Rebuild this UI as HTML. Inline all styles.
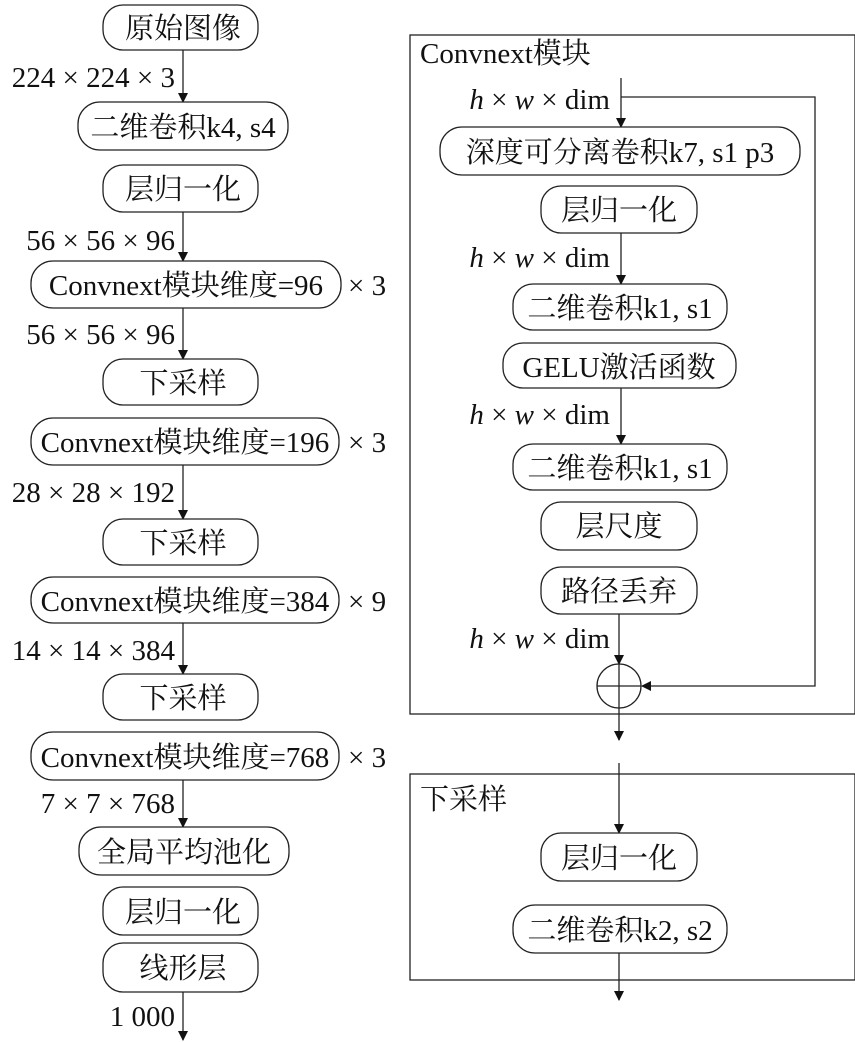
<!DOCTYPE html>
<html><head><meta charset="utf-8"><style>
html,body{margin:0;padding:0;background:#fff;}
svg{display:block;}
text{font-family:"Liberation Serif","Noto Serif CJK SC","DejaVu Serif",serif;font-size:29px;fill:#111;}
.l{text-anchor:end;}
.m{text-anchor:middle;}
rect,circle{fill:#fff;stroke:#222;stroke-width:1.3;}
line,polyline{stroke:#222;stroke-width:1.3;fill:none;}
</style></head><body>
<svg width="855" height="1042" viewBox="0 0 855 1042" xmlns="http://www.w3.org/2000/svg" font-family="Liberation Serif, Noto Serif CJK SC, serif">
<defs><marker id="a" markerWidth="10" markerHeight="10" refX="9" refY="5" orient="auto" markerUnits="userSpaceOnUse"><path d="M0,0 L10,5 L0,10 z" fill="#111"/></marker></defs>

<line x1="183" y1="50" x2="183" y2="102" marker-end="url(#a)"/>
<line x1="183" y1="212" x2="183" y2="261" marker-end="url(#a)"/>
<line x1="183" y1="308" x2="183" y2="359" marker-end="url(#a)"/>
<line x1="183" y1="465" x2="183" y2="519" marker-end="url(#a)"/>
<line x1="183" y1="623" x2="183" y2="674" marker-end="url(#a)"/>
<line x1="183" y1="780" x2="183" y2="827" marker-end="url(#a)"/>
<line x1="183" y1="992" x2="183" y2="1040" marker-end="url(#a)"/>

<rect x="103" y="5" width="155" height="45" rx="20"/><text class="m" x="183" y="38">原始图像</text>
<text class="l" x="175" y="87">224 × 224 × 3</text>
<rect x="78" y="102" width="210" height="48" rx="22"/><text class="m" x="183" y="137">二维卷积k4, s4</text>
<rect x="103" y="165" width="155" height="47" rx="20"/><text class="m" x="183" y="199">层归一化</text>
<text class="l" x="175" y="250">56 × 56 × 96</text>
<rect x="31" y="261" width="310" height="47" rx="22"/><text class="m" x="186" y="295">Convnext模块维度=96</text>
<text x="348" y="295">× 3</text>
<text class="l" x="175" y="344">56 × 56 × 96</text>
<rect x="103" y="359" width="155" height="46" rx="20"/><text class="m" x="183" y="393">下采样</text>
<rect x="31" y="418" width="308" height="47" rx="22"/><text class="m" x="185" y="452">Convnext模块维度=196</text>
<text x="348" y="452">× 3</text>
<text class="l" x="175" y="502">28 × 28 × 192</text>
<rect x="103" y="519" width="155" height="46" rx="20"/><text class="m" x="183" y="553">下采样</text>
<rect x="31" y="577" width="308" height="46" rx="22"/><text class="m" x="185" y="611">Convnext模块维度=384</text>
<text x="348" y="611">× 9</text>
<text class="l" x="175" y="660">14 × 14 × 384</text>
<rect x="103" y="674" width="155" height="46" rx="20"/><text class="m" x="183" y="708">下采样</text>
<rect x="31" y="732" width="308" height="48" rx="22"/><text class="m" x="185" y="767">Convnext模块维度=768</text>
<text x="348" y="767">× 3</text>
<text class="l" x="175" y="813">7 × 7 × 768</text>
<rect x="79" y="827" width="210" height="48" rx="22"/><text class="m" x="184" y="862">全局平均池化</text>
<rect x="103" y="887" width="155" height="48" rx="20"/><text class="m" x="183" y="922">层归一化</text>
<rect x="103" y="943" width="155" height="49" rx="20"/><text class="m" x="183" y="978">线形层</text>
<text class="l" x="175" y="1026">1 000</text>

<rect x="410" y="35" width="445" height="679"/>
<text x="420" y="63">Convnext模块</text>
<line x1="621" y1="78" x2="621" y2="127" marker-end="url(#a)"/>
<polyline points="621,97 815,97 815,686 642,686" marker-end="url(#a)"/>
<text class="l" x="610" y="109"><tspan font-style="italic">h</tspan> × <tspan font-style="italic">w</tspan> × dim</text>
<rect x="440" y="127" width="360" height="48" rx="22"/><text class="m" x="620" y="162">深度可分离卷积k7, s1 p3</text>
<rect x="541" y="186" width="156" height="47" rx="20"/><text class="m" x="619" y="220">层归一化</text>
<line x1="621" y1="233" x2="621" y2="284" marker-end="url(#a)"/>
<text class="l" x="610" y="267"><tspan font-style="italic">h</tspan> × <tspan font-style="italic">w</tspan> × dim</text>
<rect x="513" y="284" width="214" height="46" rx="20"/><text class="m" x="620" y="318">二维卷积k1, s1</text>
<rect x="503" y="343" width="233" height="45" rx="20"/><text class="m" x="619" y="377">GELU激活函数</text>
<line x1="621" y1="388" x2="621" y2="444" marker-end="url(#a)"/>
<text class="l" x="610" y="424"><tspan font-style="italic">h</tspan> × <tspan font-style="italic">w</tspan> × dim</text>
<rect x="513" y="444" width="214" height="46" rx="20"/><text class="m" x="620" y="478">二维卷积k1, s1</text>
<rect x="541" y="502" width="156" height="48" rx="20"/><text class="m" x="619" y="536">层尺度</text>
<rect x="541" y="567" width="156" height="47" rx="20"/><text class="m" x="619" y="601">路径丢弃</text>
<line x1="619" y1="614" x2="619" y2="664" marker-end="url(#a)"/>
<text class="l" x="610" y="648"><tspan font-style="italic">h</tspan> × <tspan font-style="italic">w</tspan> × dim</text>
<circle cx="619" cy="686" r="22"/>
<line x1="597" y1="686" x2="641" y2="686"/>
<line x1="619" y1="664" x2="619" y2="740" marker-end="url(#a)"/>

<rect x="410" y="774" width="445" height="206"/>
<text x="420" y="809">下采样</text>
<line x1="619" y1="763" x2="619" y2="833" marker-end="url(#a)"/>
<rect x="541" y="833" width="156" height="48" rx="20"/><text class="m" x="619" y="868">层归一化</text>
<rect x="513" y="905" width="214" height="48" rx="22"/><text class="m" x="620" y="940">二维卷积k2, s2</text>
<line x1="619" y1="953" x2="619" y2="1000" marker-end="url(#a)"/>
</svg>
</body></html>
